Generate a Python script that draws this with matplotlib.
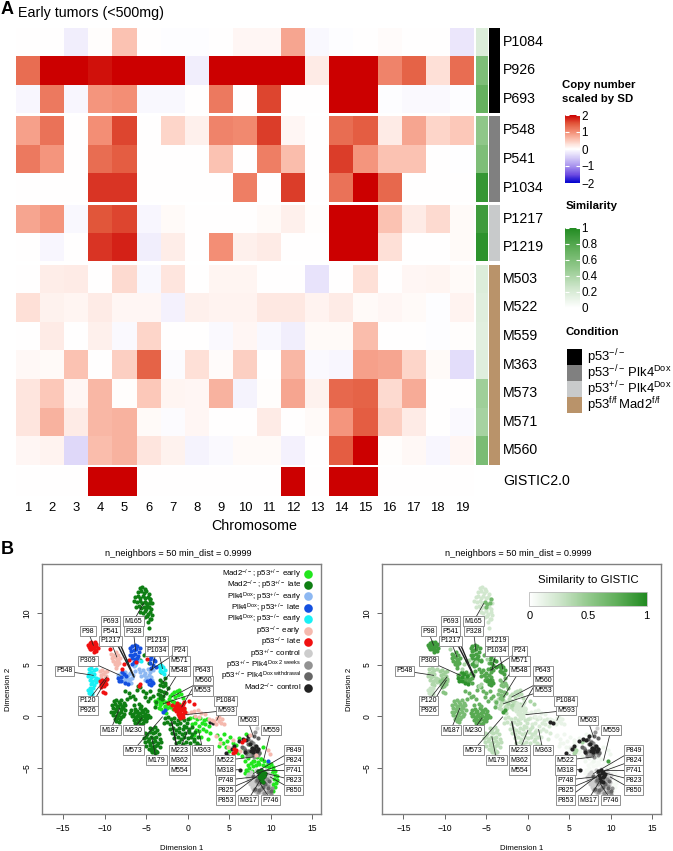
import numpy as np
import matplotlib
matplotlib.use('Agg')
import matplotlib.pyplot as plt
from matplotlib.cm import ScalarMappable
from matplotlib.colors import LinearSegmentedColormap, ListedColormap, Normalize
from matplotlib.lines import Line2D
from matplotlib.patches import Rectangle

plt.rcParams['font.family'] = ['Liberation Sans', 'DejaVu Sans']
plt.rcParams['mathtext.fontset'] = 'custom'
plt.rcParams['mathtext.rm'] = 'Liberation Sans'
plt.rcParams['mathtext.default'] = 'regular'

W, H = 673, 851

# panel A data
chromosomes = list(range(1, 20))
group1_rows = ['P1084', 'P926', 'P693']
group1_vals = [
    [0, 0, -0.17, 0.02, 0.55, 0, -0.03, -0.02, 0, 0.08, 0.08, 0.8, -0.07, -0.03, 0, 0.04, 0, 0, -0.25],
    [1.3, 2, 2, 1.9, 2, 2, 2, -0.17, 2, 2, 2, 2, 0.2, 2, 2, 1.1, 1.4, 0.3, 1.3],
    [-0.08, 1.2, -0.08, 0.95, 1.0, -0.07, -0.07, 0, 1.2, 0, 1.6, 0, 0, 2, 2, -0.03, -0.05, -0.05, -0.02],
]
group2_rows = ['P548', 'P541', 'P1034']
group2_vals = [
    [0.85, 1.25, 0, 1.0, 1.6, 0, 0.4, 0.15, 1.1, 1.05, 1.65, 0.08, 0, 1.3, 1.45, 0.2, 0.8, 0.4, 0.5],
    [1.2, 0.95, 0, 1.3, 1.45, 0, 0, 0, 0.55, 0, 1.15, 0.6, 0, 1.65, 0.95, 0.55, 0.55, 0, -0.01],
    [0, 0, 0, 1.7, 1.7, 0, 0, 0, 0, 1.15, 0, 1.65, 0, 1.25, 2, 1.35, 0, 0, 0],
]
group3_rows = ['P1217', 'P1219']
group3_vals = [
    [0.8, 0.95, -0.07, 1.5, 1.6, -0.08, 0.05, 0, 0, 0, 0.06, 0.15, 0.03, 2, 2, 0.55, 0.2, 0.35, 0.05],
    [0, -0.08, 0, 1.7, 1.8, -0.17, 0.18, 0, 1.0, 0.15, 0.2, 0, 0, 2, 2, 0.3, 0, 0, 0.05],
]
group4_rows = ['M503', 'M522', 'M559', 'M363', 'M573', 'M571', 'M560']
group4_vals = [
    [0, 0.18, 0.2, 0, 0.35, -0.07, 0.25, 0, 0.1, 0.1, 0, 0, -0.27, 0, 0.3, 0, 0.08, 0.1, 0.06],
    [0.3, 0.13, 0.1, 0.2, 0.08, 0.08, -0.14, 0.15, 0.12, 0.12, 0.22, 0.22, 0.12, 0.2, 0.05, 0.08, 0.06, -0.03, 0.12],
    [0, 0.2, 0, 0.15, -0.05, 0.4, 0, 0, -0.05, 0.08, -0.07, -0.17, 0.05, 0.05, 0.6, 0, 0, -0.02, 0.02],
    [0.07, 0.06, 0.55, 0, 0.45, 1.4, -0.04, 0.3, 0.04, 0.45, 0, 0.65, -0.06, -0.08, 0.85, 0.8, 0.4, 0.05, -0.33],
    [0.25, 0.5, 0.08, 0.65, 0.03, 0.5, 0.1, 0.08, 0.7, -0.12, 0.02, 0.8, 0.13, 1.35, 1.4, 0.35, 0.75, 0, 0],
    [0.25, 0.7, 0.2, 0.65, 0.7, 0.05, -0.04, 0.08, 0, 0, 0.2, 0, 0.06, 0.95, 1.45, 0.45, 0.2, 0, -0.05],
    [0.08, 0.12, -0.38, 0.6, 0.7, 0.25, 0.13, -0.12, -0.05, 0.06, 0.06, -0.14, 0, 1.45, 2, 0.03, 0.07, -0.08, 0.08],
]
gistic_vals = [[0, 0, 0, 2, 2, 0, 0, 0, 0, 0, 0, 2, 0, 2, 2, 0, 0, 0, 0]]
group1_sim = [0.18, 0.6, 0.72]
group2_sim = [0.52, 0.6, 0.92]
group3_sim = [0.88, 0.95]
group4_sim = [0.18, 0.17, 0.16, 0.17, 0.45, 0.42, 0.62]
condition_labels = ['p53$^{-/-}$', 'p53$^{-/-}\\,$Plk4$^{Dox}$', 'p53$^{+/-}\\,$Plk4$^{Dox}$', 'p53$^{f/f}\\,$Mad2$^{f/f}$']
condition_colors = ['#000000', '#808080', '#c8cacb', '#b9936a']

# panel B data, each cluster
m165_x = [-5.8, -5.5, -5.2, -6.0, -5.6, -5.3, -5.0, -4.7, -6.3, -6.0, -5.7, -5.4, -5.1, -4.8, -4.5, -6.5, -6.1, -5.8, -5.5, -5.2, -4.9, -4.6, -4.3, -6.2, -5.9, -5.6, -5.3, -5.0, -4.7, -4.4, -5.7, -5.4, -5.1, -4.8, -4.5, -5.2, -4.9, -4.6, -4.3, -4.8, -4.4, -4.7]
m165_y = [12.5, 12.6, 12.4, 12.1, 12.2, 12.0, 12.2, 11.9, 11.6, 11.7, 11.5, 11.7, 11.5, 11.6, 11.4, 11.2, 11.1, 11.2, 11.0, 11.1, 10.9, 11.1, 11.0, 10.6, 10.7, 10.5, 10.6, 10.4, 10.6, 10.4, 10.1, 10.0, 10.2, 9.9, 10.1, 9.6, 9.7, 9.5, 9.8, 9.2, 9.5, 8.6]
m165b_x = [-4.5, -4.6, -4.9, -5.0, -5.2]
m165b_y = [11.4, 11.0, 10.9, 10.6, 11.1]
p98_x = [-12.0, -11.8, -11.6, -11.4, -11.2, -11.0, -11.9, -11.7, -11.5, -11.3, -11.1, -10.8, -11.8, -11.6, -11.4, -11.2, -11.3, -11.0]
p98_y = [6.9, 7.1, 7.2, 7.0, 7.2, 7.0, 6.7, 6.9, 6.8, 6.6, 6.8, 6.6, 6.5, 6.5, 6.7, 6.4, 6.2, 6.3]
red_left_x = [-10.6, -10.3, -10.0, -9.7, -10.5, -10.2, -9.9, -10.4, -10.1, -10.2, -10.0]
red_left_y = [3.4, 3.5, 3.4, 3.6, 3.1, 3.2, 3.1, 2.8, 2.9, 2.4, 2.3]
red_mid_x = [-1.5, -1.2, -0.9, -0.6, -1.6, -1.3, -1.0, -0.7, -0.4, -1.4, -1.1, -0.8, -0.5, -1.2, -0.9, -0.6, -0.3, -1.0, -0.7, -0.9, -0.6, -1.3, -0.5]
red_mid_y = [1.0, 1.1, 1.0, 1.2, 0.7, 0.8, 0.7, 0.9, 0.8, 0.5, 0.4, 0.6, 0.5, 0.2, 0.3, 0.2, 0.4, 0.0, 0.1, -0.2, -0.1, 1.3, 1.4]
red_loose_x = [-9.4, -7.7, -7.1, -6.2, -5.9, -5.7, 0.7, -1.9, -2.4, 0.2, 5.6, 5.7, 5.8, 5.5, 6.5, 6.8, -4.9, -7.9]
red_loose_y = [6.5, 5.1, 5.5, 5.3, 2.9, 3.1, 1.2, 1.1, 1.3, 1.5, -3.2, -3.5, -3.3, -3.6, -2.5, -2.3, 5.6, 4.6]
cyan_left_x = [-11.9, -11.6, -11.3, -11.0, -11.9, -11.6, -11.3, -12.0, -11.7, -11.4, -11.1, -11.8, -11.5, -11.2, -11.0, -10.8, -11.6, -11.3, -11.5]
cyan_left_y = [4.6, 4.7, 4.5, 4.6, 4.2, 4.3, 4.1, 3.9, 3.8, 3.9, 3.7, 3.5, 3.4, 3.5, 3.3, 3.6, 3.1, 3.0, 3.2]
cyan_low_x = [-12.0, -11.8, -11.6, -11.4, -11.9, -11.7, -11.5, -11.7, -11.6]
cyan_low_y = [2.6, 2.7, 2.5, 2.7, 2.3, 2.4, 2.2, 2.0, 1.9]
cyan_right_x = [-3.5, -3.3, -3.0, -2.8, -3.4, -3.1, -2.9, -3.2, -5.6, -6.3, -7.3]
cyan_right_y = [4.9, 4.7, 4.8, 4.5, 4.4, 4.3, 4.1, 5.0, 5.4, 5.0, 5.4]
pink_up_x = [-9.2, -9.0, -8.7, -8.4, -9.1, -8.8, -8.5, -8.2, -9.0, -8.7, -8.4, -8.8, -8.5, -8.6, -8.3]
pink_up_y = [6.1, 6.0, 6.2, 6.0, 5.7, 5.8, 5.6, 5.7, 5.4, 5.3, 5.4, 5.1, 5.0, 4.7, 5.2]
pink_left_x = [-10.6, -10.3, -10.0, -9.7, -10.5, -10.2, -9.9, -10.4, -10.0, -9.8]
pink_left_y = [4.4, 4.5, 4.3, 4.4, 4.0, 4.1, 3.9, 3.7, 3.7, 3.4]
pink_mid_x = [0.8, 1.2, 1.6, 1.3, 0.9, 2.9, 3.2, 3.5, 3.8, 4.1, 4.3, 3.4, 3.7, 4.0, 2.6, 2.1, -0.1, 0.4]
pink_mid_y = [0.5, 0.6, 0.3, -0.1, 0.0, -0.4, -0.5, -0.2, -0.5, -0.3, -0.8, -0.8, -0.1, -0.7, -0.3, 0.2, 0.3, 0.4]
pink_low_x = [3.4, 3.9, 4.9, 5.5, 6.3, 9.6, 9.9, 8.2, 7.5]
pink_low_y = [-1.9, -2.6, -3.0, -2.3, -3.4, -3.3, -3.7, -3.8, -1.8]
lblue_x = [-8.4, -8.1, -7.8, -7.5, -7.2, -6.9, -6.6, -8.2, -7.9, -7.6, -7.3, -7.0, -6.7, -7.7, -7.4, -7.1, -6.8, -5.7, -5.4, -5.1, -4.8, -4.5, -4.2, -5.6, -5.3, -5.0, -4.7, -4.4, -5.2, -4.9, -4.6, -4.3, -6.2, -6.5, -5.9, -6.0, -6.4]
lblue_y = [4.0, 4.2, 4.1, 4.3, 4.0, 4.2, 4.0, 3.7, 3.8, 3.6, 3.7, 3.6, 3.7, 3.4, 3.3, 3.4, 3.2, 4.3, 4.5, 4.2, 4.6, 4.3, 4.5, 3.9, 4.0, 3.8, 4.0, 3.8, 3.5, 3.6, 3.4, 3.5, 5.2, 4.9, 4.6, 5.5, 4.4]
blue_up_x = [-6.9, -6.7, -6.4, -6.1, -5.8, -6.8, -6.5, -6.2, -5.9, -6.9, -6.6, -6.3, -6.0, -6.7, -6.4, -6.1, -6.5, -6.2, -6.7]
blue_up_y = [6.6, 6.8, 6.9, 6.8, 6.6, 6.3, 6.4, 6.5, 6.2, 6.0, 6.0, 6.1, 5.9, 5.7, 5.6, 5.7, 5.3, 5.4, 5.1]
blue_left_x = [-8.4, -8.0, -7.7, -7.4, -8.3, -8.0, -7.6, -7.2, -7.9]
blue_left_y = [3.7, 3.8, 4.1, 3.9, 3.4, 3.4, 3.2, 3.1, 4.3]
blue_right_x = [-4.6, -4.4, -4.1, -3.9, -4.5, -4.2, -4.4, -3.8, -4.9, -4.6, -4.3, -4.7, -4.4, -4.2, -3.0, -2.8, 9.7]
blue_right_y = [5.6, 5.8, 5.5, 5.4, 5.2, 5.0, 4.7, 4.8, 3.4, 3.5, 3.3, 3.1, 3.0, 3.2, 0.45, 0.6, -4.3]
m187_x = [-8.9, -8.6, -8.3, -8.0, -7.7, -9.1, -8.8, -8.5, -8.2, -7.9, -7.6, -9.0, -8.7, -8.4, -8.1, -7.8, -7.5, -9.2, -8.9, -8.6, -8.3, -8.0, -7.7, -9.0, -8.7, -8.4, -8.1, -7.8, -8.8, -8.5, -8.2, -8.6, -8.3]
m187_y = [1.5, 1.6, 1.4, 1.6, 1.3, 1.1, 1.2, 1.0, 1.2, 1.0, 1.1, 0.8, 0.7, 0.9, 0.7, 0.8, 0.6, 0.4, 0.4, 0.5, 0.3, 0.4, 0.2, 0.1, 0.0, 0.1, -0.1, 0.0, -0.3, -0.2, -0.3, -0.5, -0.6]
m230_x = [-6.8, -6.4, -6.1, -5.8, -5.5, -5.2, -4.9, -6.9, -6.6, -6.3, -6.0, -5.7, -5.4, -5.1, -4.8, -6.7, -6.4, -6.1, -5.8, -5.5, -5.2, -4.9, -4.6, -6.5, -6.2, -5.9, -5.6, -5.3, -5.0, -6.3, -6.0, -5.7, -5.4, -5.9, -5.6]
m230_y = [0.6, 0.7, 0.5, 0.8, 0.6, 0.7, 0.5, 0.3, 0.2, 0.4, 0.2, 0.3, 0.4, 0.2, 0.1, 0.0, -0.1, 0.0, -0.1, 0.0, -0.1, -0.2, -0.1, -0.4, -0.3, -0.4, -0.3, -0.4, -0.5, -0.7, -0.6, -0.8, -0.7, -1.0, -0.9]
m179_x = [-4.6, -4.3, -4.0, -3.7, -5.2, -4.9, -4.5, -4.2, -3.9, -3.5, -5.3, -5.0, -4.7, -4.4, -4.1, -3.8, -3.4, -5.2, -4.8, -4.5, -4.2, -3.9, -3.6, -3.2, -5.0, -4.6, -4.3, -4.0, -3.7, -3.4, -4.7, -4.4, -4.1, -3.8, -4.3, -4.0, -3.7]
m179_y = [-1.1, -1.2, -1.0, -1.3, -1.6, -1.7, -1.5, -1.6, -1.5, -1.7, -2.1, -2.0, -2.2, -2.0, -2.1, -2.0, -2.2, -2.5, -2.4, -2.6, -2.5, -2.4, -2.6, -2.5, -2.9, -2.8, -3.0, -2.9, -2.8, -3.0, -3.2, -3.3, -3.2, -3.4, -3.5, -3.6, -3.5]
dgreen_mid_x = [-2.8, -2.4, -2.0, -1.6, -1.2, -0.8, -0.4, 0.0, -2.9, -2.5, -2.1, -1.7, -1.3, -0.9, -0.5, -0.1, -2.2, -1.8, -1.4, -1.0, -0.6, -0.2, 0.2, 0.5, -1.9, -1.5, -1.1, -0.7, -0.3, 0.1, 0.5, 0.9, -1.6, -1.2, -0.8, -0.4, 0.0, 0.4, 0.8, 1.2, -1.4, -1.0, -0.6, -0.2, 0.3, 0.7, 1.1, -0.9, -0.5, 0.9, 1.4]
dgreen_mid_y = [-0.2, -0.1, -0.3, -0.2, -0.4, -0.2, -0.4, -0.3, -0.7, -0.6, -0.8, -0.6, -0.8, -0.7, -0.9, -0.7, -1.2, -1.1, -1.3, -1.1, -1.2, -1.0, -1.2, -1.0, -1.6, -1.7, -1.5, -1.7, -1.6, -1.5, -1.7, -1.5, -2.1, -2.0, -2.2, -2.0, -2.1, -2.0, -2.2, -2.0, -2.6, -2.5, -2.7, -2.5, -2.6, -2.4, -2.6, -3.0, -3.0, -2.9, -2.8]
dgreen_up_x = [-3.4, -3.1, -2.8, -3.3, -3.0, -2.7, -2.4, -3.5, -3.2, -2.9, -2.6, -3.6, -3.3, -3.0, -3.4, -3.1, -3.2]
dgreen_up_y = [3.5, 3.3, 3.2, 3.0, 2.9, 3.0, 2.7, 2.6, 2.5, 2.4, 2.3, 2.2, 2.1, 2.0, 1.8, 1.7, 4.3]
dgreen_loose_x = [-7.6, -7.1, -6.6, -6.0, -5.7, -6.9, -6.3, -5.4, -5.0, -4.6, -4.2, -5.2, -4.8, -4.5, -5.9, -7.3, -6.5, -3.8, -4.0, -5.6, -6.1, -5.7, -4.7, -5.3, -5.0, -2.8]
dgreen_loose_y = [2.5, 2.3, 2.0, 2.9, 2.8, 1.9, 1.7, 2.5, 2.3, 2.5, 2.0, 1.9, 1.5, 1.8, 1.2, 1.7, 1.1, 1.4, 0.9, 1.0, 2.6, 5.5, 5.2, 6.0, 6.1, 3.7]
dgreen_core_x = [8.5, 8.8, 9.1, 8.7, 9.0, 9.3, 8.6, 8.9, 9.2, 8.8, 9.0]
dgreen_core_y = [-5.3, -5.2, -5.4, -5.6, -5.7, -5.5, -5.9, -6.0, -5.8, -6.2, -6.4]
bgreen_mid_x = [-4.0, -3.6, -3.3, -3.0, -2.6, -2.3, -1.9, -1.6, -3.8, -3.4, -3.1, -2.7, -2.4, -2.0, -1.7, -1.3, -1.0, -3.5, -3.2, -2.8, -2.5, -2.1, -1.8, -1.4, -1.1, -0.7, -0.4, -2.2, -1.9, -1.5, -1.2, -0.8, -1.6, -1.3, -1.0, -0.6, -2.9, -2.6]
bgreen_mid_y = [1.5, 1.7, 1.4, 1.6, 1.4, 1.7, 1.5, 1.4, 1.2, 1.1, 1.3, 1.0, 1.2, 1.0, 1.3, 1.1, 1.2, 0.8, 0.7, 0.9, 0.8, 0.9, 0.7, 0.8, 0.6, 0.9, 0.7, 2.0, 2.2, 1.9, 2.1, 2.2, 2.4, 2.5, 2.6, 1.8, 0.4, 0.3]
bgreen_next_x = [0.3, 0.7, 1.1, 1.5, 1.9, 2.3, 0.5, 0.9, 1.3, 1.7, 2.1, 2.5, 1.0, 1.4, 1.8, 2.2, 2.7, 0.8, 1.6, 2.4]
bgreen_next_y = [-0.2, -0.1, -0.3, -0.2, -0.4, -0.3, -0.8, -0.7, -0.9, -0.7, -0.8, -0.9, -1.3, -1.4, -1.2, -1.4, -1.6, -1.8, -2.0, -2.2]
bgreen_far_x = [3.5, 3.9, 4.3, 4.7, 5.1, 5.5, 3.8, 4.2, 4.6, 5.0, 5.4, 5.8, 6.2, 6.6, 7.0, 7.4, 6.0, 6.5, 7.1, 7.6, 8.1, 8.6, 9.0, 7.3, 7.8, 8.3, 8.8, 6.9]
bgreen_far_y = [-1.8, -2.2, -1.7, -2.4, -2.0, -2.6, -2.9, -2.6, -3.0, -3.4, -3.1, -2.8, -2.1, -3.1, -1.7, -2.7, -3.6, -3.9, -3.5, -3.8, -3.3, -3.6, -3.0, -4.1, -4.3, -4.0, -4.2, -4.3]
bgreen_ring_x = [7.2, 7.6, 8.0, 8.4, 8.8, 9.2, 9.6, 10.0, 10.3, 7.0, 7.4, 7.8, 8.2, 8.6, 9.0, 9.4, 9.8, 10.2, 10.5, 6.9, 7.3, 7.7, 10.1, 10.5, 10.7, 10.4, 10.7, 10.6, 10.3, 10.5, 10.1, 9.9, 10.2]
bgreen_ring_y = [-4.7, -4.5, -4.3, -4.4, -4.2, -4.3, -4.5, -4.6, -4.9, -5.2, -5.0, -4.8, -4.7, -4.6, -4.7, -4.8, -4.9, -5.2, -5.3, -5.5, -5.4, -5.3, -5.5, -5.7, -5.8, -6.1, -6.2, -6.5, -6.6, -6.9, -7.0, -7.4, -7.3]
ctrl_x = [7.3, 7.6, 7.9, 8.2, 8.5, 8.8, 9.1, 9.4, 9.7, 10.0, 7.4, 7.7, 8.0, 8.3, 8.7, 9.0, 9.3, 9.6, 9.9, 7.5, 7.8, 8.1, 8.4, 8.8, 9.2, 9.5, 9.8, 7.9, 8.2, 8.6, 9.0, 9.4, 9.7, 8.3, 8.7, 9.1, 5.2, 6.9, 7.6, 8.3]
ctrl_y = [-5.6, -5.4, -5.7, -5.2, -5.5, -5.1, -5.4, -5.2, -5.5, -5.7, -6.1, -6.0, -6.3, -6.1, -6.0, -5.9, -6.1, -6.2, -6.4, -6.6, -6.5, -6.8, -6.6, -6.7, -6.5, -6.8, -6.7, -7.1, -7.0, -7.2, -7.1, -7.2, -7.3, -7.5, -7.4, -7.5, -3.1, -3.4, -2.4, -1.1]
ctrl2_x = [7.1, 7.4, 7.7, 8.0, 8.3, 8.6, 8.9, 9.5, 9.9, 7.2, 7.6, 7.9, 8.2, 8.5, 8.9, 9.4, 9.7, 7.7, 8.0, 8.4, 8.8, 9.1, 9.4, 8.1, 8.5, 8.9]
ctrl2_y = [-5.9, -5.8, -5.9, -6.0, -5.8, -5.8, -5.7, -5.8, -6.0, -6.3, -6.4, -6.5, -6.4, -6.3, -6.5, -6.4, -6.1, -6.9, -6.7, -7.0, -6.9, -7.1, -6.9, -7.3, -7.2, -7.3]
weeks_x = [8.2, 8.5, 8.9, 9.3, 9.7, 10.1, 8.0, 8.4, 8.8, 9.2, 9.6, 10.0, 8.3, 8.7, 9.1, 9.5, 6.8, 7.3, 7.8, 8.2, 8.6, 7.5, 8.0, 8.5, 7.1, 7.7, 8.1]
weeks_y = [-6.3, -6.6, -6.9, -6.5, -6.8, -7.0, -7.2, -7.4, -7.1, -7.5, -7.4, -7.6, -6.0, -5.9, -6.2, -6.1, -3.1, -3.4, -2.6, -3.0, -3.5, -3.8, -4.0, -3.8, -3.9, -3.2, -1.5]
withdraw_x = [6.5, 6.9, 7.3, 7.7, 8.1, 8.5, 7.0, 7.4, 7.8, 8.2, 8.6, 7.2, 7.6, 8.0, 8.4, 7.9, 8.3, 8.8, 9.3, 9.8, 8.1, 8.6, 9.1, 9.6, 10.0]
withdraw_y = [-3.0, -3.3, -2.7, -3.1, -2.9, -3.2, -3.6, -3.4, -3.7, -3.5, -3.6, -2.2, -2.5, -1.9, -2.1, -5.8, -6.2, -6.4, -6.6, -6.3, -7.1, -7.2, -6.9, -7.0, -7.3]
mad_ctrl_x = [4.6, 4.9, 5.3, 5.6, 6.2, 6.6, 7.0, 7.3, 7.5, 7.7, 8.0, 8.2, 8.4, 7.6, 7.9, 8.3, 6.9, 4.5, 2.7, 3.0, 6.3, 8.5, 8.8, 9.1, 9.3, 8.6, 8.9, 9.2, 8.7, 9.0, 8.8, 9.0]
mad_ctrl_y = [-3.6, -3.9, -3.2, -2.9, -2.4, -2.2, -2.3, -1.9, -2.7, -3.1, -3.2, -2.9, -3.2, -3.4, -3.5, -3.4, -3.5, -4.1, -0.6, -0.7, -5.2, -5.3, -5.2, -5.4, -5.6, -5.7, -5.5, -5.8, -6.0, -5.9, -6.3, -6.4]

legend_labels = ['Mad2$^{-/-}$; p53$^{+/-}$ early', 'Mad2$^{-/-}$; p53$^{+/-}$ late', 'Plk4$^{Dox}$; p53$^{+/-}$ early',
                 'Plk4$^{Dox}$; p53$^{+/-}$ late', 'Plk4$^{Dox}$; p53$^{-/-}$ early', 'p53$^{-/-}$ early', 'p53$^{-/-}$ late',
                 'p53$^{+/-}$ control', 'p53$^{+/-}$ Plk4$^{Dox\\ 2\\ weeks}$', 'p53$^{+/-}$ Plk4$^{Dox\\ withdrawal}$', 'Mad2$^{-/-}$ control']
legend_colors = ['#22e61e', '#0f7f14', '#8db8f2', '#1450e0', '#19f0f5', '#f5b9ae', '#f01010', '#cccccc', '#929292', '#666666', '#222222']
mad_early, mad_late, plk_early, plk_late, plk_null, p53_early, p53_late, ctrl, weeks, withdraw, mad_ctrl = legend_colors

# x, y, colour on the left, similarity on the right (None keeps the colour)
clusters = [
    (bgreen_ring_x, bgreen_ring_y, mad_early, 0.05),
    (bgreen_far_x, bgreen_far_y, mad_early, 0.08),
    (bgreen_next_x, bgreen_next_y, mad_early, 0.2),
    (bgreen_mid_x, bgreen_mid_y, mad_early, 0.33),
    (ctrl_x, ctrl_y, ctrl, None),
    (ctrl2_x, ctrl2_y, ctrl, None),
    (weeks_x, weeks_y, weeks, None),
    (withdraw_x, withdraw_y, withdraw, None),
    (mad_ctrl_x, mad_ctrl_y, mad_ctrl, None),
    (dgreen_core_x, dgreen_core_y, mad_late, 0.02),
    (m165_x, m165_y, mad_late, 0.24),
    (m165b_x, m165b_y, mad_late, 0.65),
    (m187_x, m187_y, mad_late, 0.62),
    (m230_x, m230_y, mad_late, 0.78),
    (m179_x, m179_y, mad_late, 0.33),
    (dgreen_mid_x, dgreen_mid_y, mad_late, 0.27),
    (dgreen_up_x, dgreen_up_y, mad_late, 0.6),
    (dgreen_loose_x, dgreen_loose_y, mad_late, 0.7),
    (pink_up_x, pink_up_y, p53_early, 0.78),
    (pink_left_x, pink_left_y, p53_early, 0.45),
    (pink_mid_x, pink_mid_y, p53_early, 0.12),
    (pink_low_x, pink_low_y, p53_early, 0.08),
    (cyan_left_x, cyan_left_y, plk_null, 0.38),
    (cyan_low_x, cyan_low_y, plk_null, 0.28),
    (cyan_right_x, cyan_right_y, plk_null, 0.85),
    (lblue_x, lblue_y, plk_early, 0.8),
    (blue_up_x, blue_up_y, plk_late, 0.85),
    (blue_left_x, blue_left_y, plk_late, 0.95),
    (blue_right_x, blue_right_y, plk_late, 0.88),
    (p98_x, p98_y, p53_late, 0.88),
    (red_left_x, red_left_y, p53_late, 0.55),
    (red_mid_x, red_mid_y, p53_late, 0.22),
    (red_loose_x, red_loose_y, p53_late, 0.4),
]

label_names = ['M165', 'P693', 'P541', 'P328', 'P98', 'P1217', 'P1219', 'P1034', 'P24', 'M571', 'M548', 'P643', 'M560', 'M553',
               'P1084', 'M593', 'P309', 'P548', 'P120', 'P926', 'M187', 'M230', 'M573', 'M179', 'M223', 'M362', 'M554', 'M363',
               'M503', 'M559', 'P849', 'P824', 'P741', 'P823', 'P850', 'M522', 'M318', 'P748', 'P825', 'P853', 'M317', 'P746']
label_x = [-6.55, -9.3, -9.3, -6.55, -12.0, -9.3, -3.78, -3.78, -1.0, -1.0, -1.0, 1.8, 1.8, 1.8,
           4.58, 4.58, -12.0, -14.86, -12.0, -12.0, -9.3, -6.55, -6.55, -3.78, -1.0, -1.0, -1.0, 1.8,
           7.23, 10.0, 12.73, 12.73, 12.73, 12.73, 12.73, 4.5, 4.5, 4.5, 4.5, 4.5, 7.23, 10.0]
label_y = [9.23, 9.23, 8.26, 8.26, 8.26, 7.32, 7.32, 6.35, 6.35, 5.38, 4.41, 4.41, 3.47, 2.49,
           1.52, 0.55, 5.38, 4.41, 1.52, 0.55, -1.36, -1.36, -3.30, -4.28, -3.30, -4.28, -5.25, -3.30,
           -0.42, -1.36, -3.30, -4.28, -5.25, -6.22, -7.19, -4.28, -5.25, -6.22, -7.19, -8.16, -8.16, -8.16]
target_x = [-5.34, -6.55, -6.47, -6.27, -11.37, -8.55, -3.05, -4.34, -4.54, -2.93, -2.93, -0.72, -1.93, -2.93,
            3.49, -0.24, -8.15, -11.37, -9.76, -9.84, -8.23, -5.54, -3.05, -4.34, 0.0, -1.93, -1.53, 1.29,
            7.91, 9.12, 7.91, 8.31, 9.12, 9.52, 9.92, 7.91, 6.5, 7.91, 8.31, 8.71, 8.71, 8.71]
target_y = [10.95, 3.98, 3.82, 6.41, 6.9, 5.77, 4.63, 4.47, 4.47, 3.34, 1.88, 0.91, 1.88, 1.23,
            -0.39, 0.16, 3.98, 3.98, 3.82, 3.5, 0.75, -0.16, -0.06, -2.0, -1.36, -0.55, -2.0, -1.3,
            -2.0, -4.28, -5.57, -5.57, -5.25, -5.57, -5.9, -3.95, -5.18, -5.9, -5.9, -5.57, -6.22, -6.54]

heat_cmap = LinearSegmentedColormap.from_list('heat', [
    (0.0, '#0000cd'), (0.125, '#6f4de2'), (0.25, '#a894ee'), (0.375, '#d6ccf7'), (0.5, '#ffffff'),
    (0.5625, '#fee6df'), (0.625, '#fcc9ba'), (0.75, '#f38f76'), (0.875, '#e2583c'), (1.0, '#cc0000')])
sim_cmap = LinearSegmentedColormap.from_list('sim', ['#ffffff', '#cfe6cc', '#93c98d', '#5fae59', '#228b22'])
heat_norm = Normalize(-2, 2)
sim_norm = Normalize(0, 1)


def px_ax(fig, x0, y0, x1, y1):
    return fig.add_axes([x0 / W, 1 - y1 / H, (x1 - x0) / W, (y1 - y0) / H])


def px_text(fig, x, y, s, **kwargs):
    kwargs.setdefault('va', 'center')
    fig.text(x / W, 1 - y / H, s, **kwargs)


def heat_group(fig, vals, sim, cond, rows, y0, y1):
    n = len(vals)
    ax = px_ax(fig, 16, y0, 474, y1)
    ax.pcolormesh(np.array(vals), cmap=heat_cmap, norm=heat_norm, antialiased=False)
    ax.invert_yaxis()
    ax.axis('off')
    if sim is not None:
        ax = px_ax(fig, 476, y0, 488, y1)
        ax.pcolormesh(np.array(sim).reshape(n, 1), cmap=sim_cmap, norm=sim_norm, antialiased=False)
        ax.invert_yaxis()
        ax.axis('off')
        ax = px_ax(fig, 488.7, y0, 500, y1)
        ax.pcolormesh(np.zeros((n, 1)), cmap=ListedColormap([cond]), antialiased=False)
        ax.axis('off')
    for i, name in enumerate(rows):
        px_text(fig, 503, y0 + (i + 0.5) * (y1 - y0) / n, name, fontsize=10.2)


def colorbar_legend(fig, y0, y1, cmap, norm, ticks, ticklabels):
    cax = px_ax(fig, 565, y0, 580, y1)
    cb = fig.colorbar(ScalarMappable(norm=norm, cmap=cmap), cax=cax)
    cb.outline.set_visible(False)
    cb.set_ticks(ticks)
    cb.set_ticklabels(ticklabels)
    cax.yaxis.set_ticks_position('both')
    cax.yaxis.set_label_position('right')
    cax.tick_params(direction='in', length=3, width=0.8, color='white', labelsize=8.4, pad=-0.5,
                    labelleft=False, labelright=True)
    for t in cax.yaxis.get_ticklabels():
        t.set_x(1.13)


def umap_axes(fig, x0, x1):
    ax = px_ax(fig, x0, 564, x1, 814)
    ax.set_xlim(-17.55, 16.0)
    ax.set_ylim(-9.5, 14.8)
    ax.set_xticks([-15, -10, -5, 0, 5, 10, 15])
    ax.set_yticks([-5, 0, 5, 10])
    ax.tick_params(colors='#666666', labelcolor='black', labelsize=6.2, length=3.5, width=0.7, pad=4)
    for t in ax.get_yticklabels():
        t.set_rotation(90)
        t.set_va('center')
    for spine in ax.spines.values():
        spine.set_color('#808080')
        spine.set_linewidth(1.0)
    px_text(fig, (x0 + x1) / 2 - 3.5, 553, 'n_neighbors = 50 min_dist = 0.9999', fontsize=6.6, ha='center')
    px_text(fig, (x0 + x1) / 2, 848, 'Dimension 1', fontsize=5.6, ha='center')
    px_text(fig, x0 - 33, 689, 'Dimension 2', fontsize=5.6, ha='center', rotation=90)
    return ax


def sample_labels(ax):
    for name, lx, ly, tx, ty in zip(label_names, label_x, label_y, target_x, target_y):
        lw = 1.0 if name in ('P693', 'P541', 'M362') else 0.55
        ax.plot([lx, tx], [ly, ty], color='#222222', lw=lw, zorder=4)
        ax.text(lx, ly, name, fontsize=5, ha='center', va='center', zorder=5,
                bbox=dict(boxstyle='square,pad=0.2', fc='white', ec='#808080', lw=0.6))


fig = plt.figure(figsize=(W / 100, H / 100), dpi=100)

# panel A
px_text(fig, 1, 10, 'A', fontsize=13, fontweight='bold')
px_text(fig, 18, 12.5, 'Early tumors (<500mg)', fontsize=10.3)
heat_group(fig, group1_vals, group1_sim, condition_colors[0], group1_rows, 27.5, 113)
heat_group(fig, group2_vals, group2_sim, condition_colors[1], group2_rows, 116, 202.2)
heat_group(fig, group3_vals, group3_sim, condition_colors[2], group3_rows, 204.5, 261.3)
heat_group(fig, group4_vals, group4_sim, condition_colors[3], group4_rows, 264.5, 464.7)
heat_group(fig, gistic_vals, None, None, [], 467, 495.7)
px_text(fig, 503, 481, 'GISTIC2.0', fontsize=10.2)
for i, c in enumerate(chromosomes):
    px_text(fig, 28 + i * 24.1, 508, str(c), fontsize=9.4, ha='center')
px_text(fig, 254, 526, 'Chromosome', fontsize=10.3, ha='center')

px_text(fig, 562, 85, 'Copy number', fontsize=8.2, fontweight='bold')
px_text(fig, 562, 99, 'scaled by SD', fontsize=8.2, fontweight='bold')
colorbar_legend(fig, 115, 183, heat_cmap, heat_norm, [-2, -1, 0, 1, 2], ['\u22122', '\u22121', '0', '1', '2'])
px_text(fig, 566, 206, 'Similarity', fontsize=8.2, fontweight='bold')
colorbar_legend(fig, 228, 308, sim_cmap, sim_norm, [0, 0.2, 0.4, 0.6, 0.8, 1], ['0', '0.2', '0.4', '0.6', '0.8', '1'])
px_text(fig, 566, 332, 'Condition', fontsize=8.2, fontweight='bold')
for i, (lab, col) in enumerate(zip(condition_labels, condition_colors)):
    fig.add_artist(Rectangle((567 / W, 1 - (365 + i * 16) / H), 15 / W, 16 / H, transform=fig.transFigure, fc=col, ec='none'))
    px_text(fig, 587, 357 + i * 16, lab, fontsize=9.4)

# panel B, left
px_text(fig, 1, 549, 'B', fontsize=13, fontweight='bold')
ax = umap_axes(fig, 42, 320.7)
for x, y, col, sim in clusters:
    ax.scatter(x, y, s=9, c=col, linewidths=0, zorder=2)
sample_labels(ax)
handles = [Line2D([], [], ls='', marker='o', ms=6.2, mfc=c, mec='none') for c in legend_colors]
ax.legend(handles, legend_labels, loc='upper right', bbox_to_anchor=(0.985, 1.0), frameon=False, markerfirst=False,
          fontsize=5.7, labelspacing=-0.24, handletextpad=0.3, handlelength=1.2, borderpad=0.1, borderaxespad=0.35)

# panel B, right
ax = umap_axes(fig, 382.3, 660.7)
for x, y, col, sim in clusters:
    if sim is None:
        ax.scatter(x, y, s=9, c=col, linewidths=0, zorder=3)
    else:
        ax.scatter(x, y, s=9, color=sim_cmap(sim_norm(sim)), linewidths=0, zorder=2)
sample_labels(ax)

px_text(fig, 588, 580, 'Similarity to GISTIC', fontsize=8.2, ha='center')
cax = px_ax(fig, 529.3, 592, 646.7, 605.7)
cb = fig.colorbar(ScalarMappable(norm=sim_norm, cmap=sim_cmap), cax=cax, orientation='horizontal')
cb.outline.set_edgecolor('#bbbbbb')
cb.outline.set_linewidth(0.6)
cb.set_ticks([0, 0.5, 1])
cb.set_ticklabels(['0', '0.5', '1'])
cax.tick_params(length=0, labelsize=8, pad=4)

fig.savefig('out.png', dpi=100)
